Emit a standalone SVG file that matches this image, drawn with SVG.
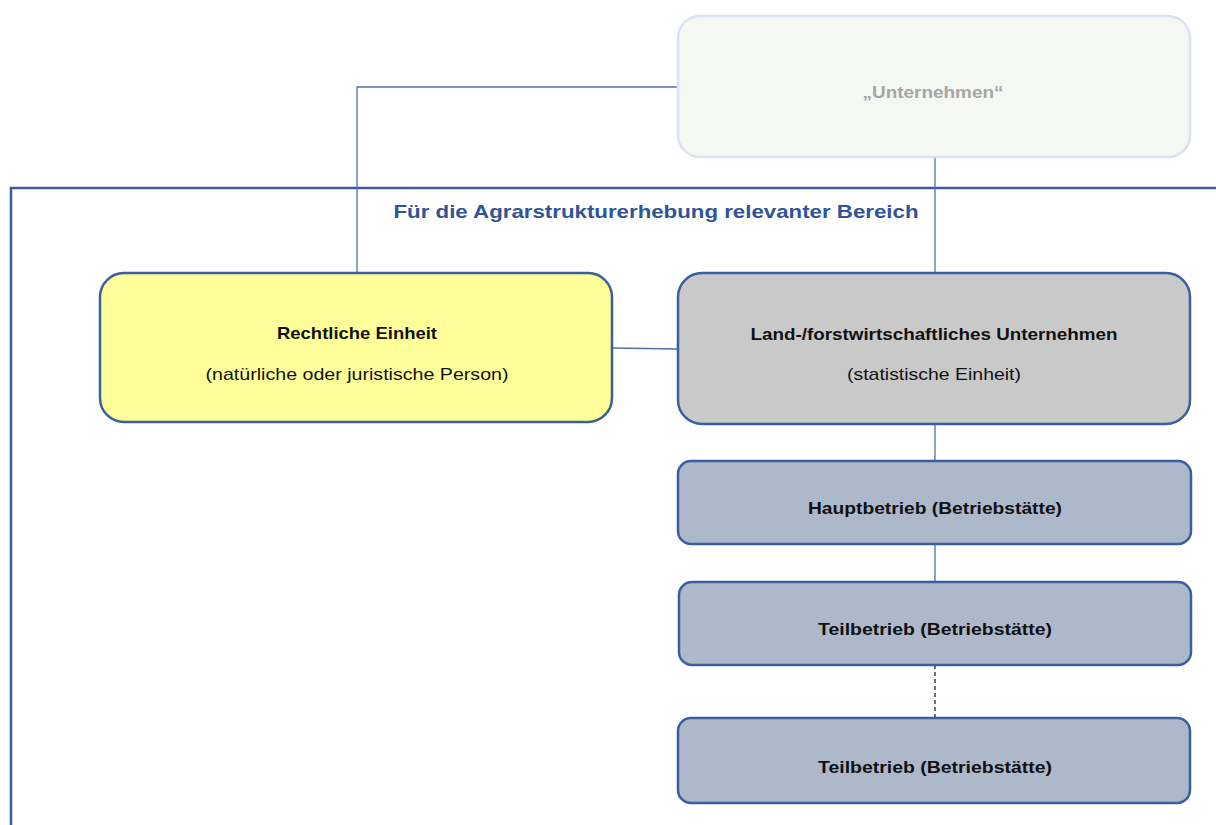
<svg xmlns="http://www.w3.org/2000/svg" width="1216" height="825" viewBox="0 0 1216 825">
<style>
text{font-family:"Liberation Sans",Arial,sans-serif;text-anchor:middle;fill:#111}
.b{font-weight:bold;font-size:17px}
.n{font-size:17px}
.node{stroke:#3a5ea0;stroke-width:2.5}
.conn{stroke:#4f70ad;stroke-width:1.3;fill:none}
</style>
<rect x="0" y="0" width="1216" height="825" fill="#fff"/>
<g id="region">
<rect x="11" y="188" width="1230" height="660" fill="none" stroke="#3a5ea0" stroke-width="2.5"/>
<text x="656" y="218" style="font-weight:bold;font-size:19px;fill:#2f5597" textLength="525" lengthAdjust="spacingAndGlyphs">Für die Agrarstrukturerhebung relevanter Bereich</text>
</g>
<g id="connectors">
<polyline class="conn" points="678,87 357,87 357,272"/>
<line class="conn" x1="935" y1="157" x2="935" y2="272"/>
<line class="conn" x1="612" y1="348" x2="678" y2="349"/>
<line class="conn" x1="935" y1="424" x2="935" y2="461"/>
<line class="conn" x1="935" y1="544" x2="935" y2="582"/>
<line x1="935" y1="665" x2="935" y2="718" stroke="#444" stroke-width="1.5" stroke-dasharray="4,3"/>
</g>
<g id="unternehmen">
<rect x="678" y="16" width="512" height="141" rx="22" fill="#f5f7f2" stroke="#dae3f3" stroke-width="2.5"/>
<text class="b" x="933" y="98" style="fill:#a6a6a6" textLength="141" lengthAdjust="spacingAndGlyphs">„Unternehmen“</text>
</g>
<g id="rechtliche-einheit">
<rect class="node" x="100" y="273" width="512" height="149" rx="24" fill="#ffff99"/>
<text class="b" x="357" y="339" textLength="160" lengthAdjust="spacingAndGlyphs">Rechtliche Einheit</text>
<text class="n" x="357" y="380" textLength="303" lengthAdjust="spacingAndGlyphs">(natürliche oder juristische Person)</text>
</g>
<g id="lf-unternehmen">
<rect class="node" x="678" y="273" width="512" height="151" rx="24" fill="#c9c9c9"/>
<text class="b" x="934" y="340" textLength="367" lengthAdjust="spacingAndGlyphs">Land-/forstwirtschaftliches Unternehmen</text>
<text class="n" x="934" y="380" textLength="174" lengthAdjust="spacingAndGlyphs">(statistische Einheit)</text>
</g>
<g id="hauptbetrieb">
<rect class="node" x="678" y="461" width="513" height="83" rx="13" fill="#adb9ca"/>
<text class="b" x="935" y="514" textLength="254" lengthAdjust="spacingAndGlyphs">Hauptbetrieb (Betriebstätte)</text>
</g>
<g id="teilbetrieb-1">
<rect class="node" x="679" y="582" width="512" height="83" rx="13" fill="#adb9ca"/>
<text class="b" x="935" y="635" textLength="234" lengthAdjust="spacingAndGlyphs">Teilbetrieb (Betriebstätte)</text>
</g>
<g id="teilbetrieb-2">
<rect class="node" x="678" y="718" width="512" height="85" rx="13" fill="#adb9ca"/>
<text class="b" x="935" y="773" textLength="234" lengthAdjust="spacingAndGlyphs">Teilbetrieb (Betriebstätte)</text>
</g>
</svg>
